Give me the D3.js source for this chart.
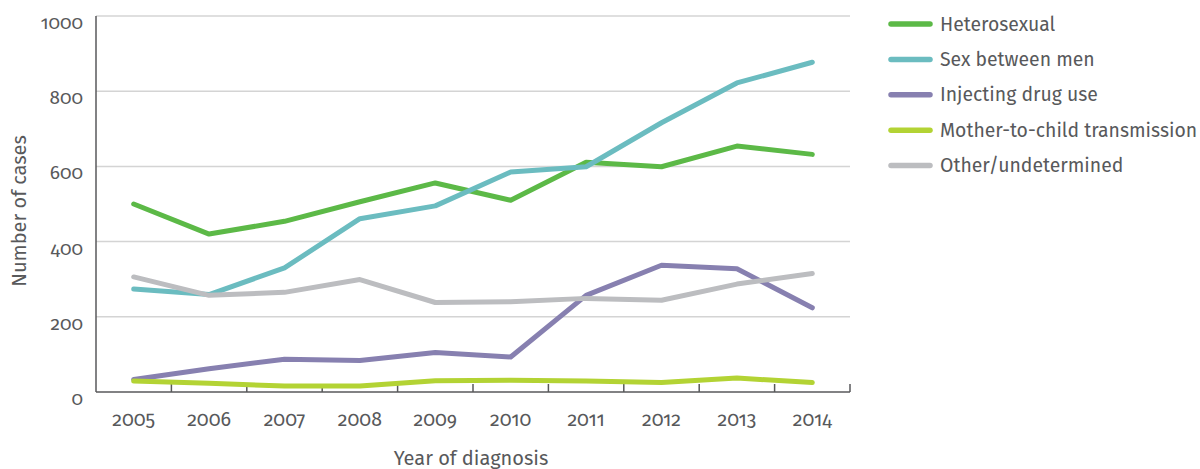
<!DOCTYPE html>
<html>
<head>
<meta charset="utf-8">
<script src="https://cdn.jsdelivr.net/npm/d3@7"></script>
<style>
  html, body { margin: 0; padding: 0; background: #fff; }
  svg text { font-family: "Fira Sans", Lato, "Open Sans", sans-serif; fill: #58595b; font-variant-numeric: oldstyle-nums; }
</style>
</head>
<body>
<svg id="chart" width="1200" height="469"></svg>
<script>
// HIV diagnoses by route of transmission, 2005–2014
const years = ["2005", "2006", "2007", "2008", "2009", "2010", "2011", "2012", "2013", "2014"];
const seriesNames = ["Heterosexual", "Sex between men", "Injecting drug use", "Mother-to-child transmission", "Other/undetermined"];
const heterosexual = [500, 420, 454, 506, 556, 510, 611, 599, 654, 632];
const sexBetweenMen = [274, 259, 330, 461, 495, 585, 599, 716, 822, 877];
const injectingDrugUse = [33, 62, 87, 84, 105, 93, 257, 337, 328, 224];
const motherToChild = [29, 23, 16, 16, 30, 31, 29, 25, 37, 25];
const otherUndetermined = [306, 257, 265, 299, 238, 240, 249, 244, 287, 315];
const yTicks = [0, 200, 400, 600, 800, 1000];
const colors = ["#5cb947", "#6bbcc0", "#8780b0", "#b3d334", "#bcbdc0"];

const seriesValues = [heterosexual, sexBetweenMen, injectingDrugUse, motherToChild, otherUndetermined];
const series = seriesNames.map((name, i) => ({ name, values: seriesValues[i], color: colors[i] }));

const svg = d3.select("#chart");
const plotLeft = 96, plotRight = 850, plotTop = 16, plotBottom = 392;

const x = d3.scaleBand().domain(years).range([plotLeft, plotRight]).padding(0);
const y = d3.scaleLinear().domain([0, 1000]).range([plotBottom, plotTop]);

// horizontal gridlines
svg.append("g")
  .selectAll("line")
  .data(yTicks.filter(t => t > 0))
  .join("line")
  .attr("x1", plotLeft).attr("x2", plotRight)
  .attr("y1", d => y(d)).attr("y2", d => y(d))
  .attr("stroke", "#d4d4d4").attr("stroke-width", 1.5);

// y tick labels
svg.append("g")
  .selectAll("text")
  .data(yTicks)
  .join("text")
  .attr("x", 83)
  .attr("y", d => y(d) + 13)
  .attr("text-anchor", "end")
  .attr("font-size", 19)
  .text(d => d);

// x axis with upward ticks at category boundaries
const xAxis = svg.append("g");
xAxis.append("line")
  .attr("x1", plotLeft).attr("x2", plotRight)
  .attr("y1", plotBottom).attr("y2", plotBottom)
  .attr("stroke", "#58595b").attr("stroke-width", 1.5);
xAxis.selectAll("line.tick")
  .data(years)
  .join("line")
  .attr("class", "tick")
  .attr("x1", d => x(d) + x.bandwidth()).attr("x2", d => x(d) + x.bandwidth())
  .attr("y1", plotBottom).attr("y2", plotBottom - 8)
  .attr("stroke", "#58595b").attr("stroke-width", 1.5);
xAxis.selectAll("text")
  .data(years)
  .join("text")
  .attr("x", d => x(d) + x.bandwidth() / 2)
  .attr("y", 426)
  .attr("text-anchor", "middle")
  .attr("font-size", 19.5)
  .text(d => d);

// y axis line
svg.append("line")
  .attr("x1", plotLeft).attr("x2", plotLeft)
  .attr("y1", plotTop).attr("y2", plotBottom)
  .attr("stroke", "#58595b").attr("stroke-width", 1.5);

// axis titles
svg.append("text")
  .attr("x", 471)
  .attr("y", 465)
  .attr("text-anchor", "middle")
  .attr("font-size", 20)
  .text("Year of diagnosis");

svg.append("text")
  .attr("transform", "translate(26,211) rotate(-90)")
  .attr("text-anchor", "middle")
  .attr("font-size", 20)
  .text("Number of cases");

// series lines
const line = d3.line()
  .x((d, i) => x(years[i]) + x.bandwidth() / 2)
  .y(d => y(d));

svg.append("g")
  .selectAll("path")
  .data(series)
  .join("path")
  .attr("d", d => line(d.values))
  .attr("fill", "none")
  .attr("stroke", d => d.color)
  .attr("stroke-width", 5)
  .attr("stroke-linejoin", "round")
  .attr("stroke-linecap", "round");

// legend
const legend = svg.append("g")
  .selectAll("g")
  .data(series)
  .join("g")
  .attr("transform", (d, i) => `translate(891,${24 + i * 35.4})`);
legend.append("line")
  .attr("x1", 0).attr("x2", 39)
  .attr("stroke", d => d.color)
  .attr("stroke-width", 5.5)
  .attr("stroke-linecap", "round");
legend.append("text")
  .attr("x", 49)
  .attr("y", 6.5)
  .attr("font-size", 19.4)
  .text(d => d.name);
</script>
</body>
</html>
